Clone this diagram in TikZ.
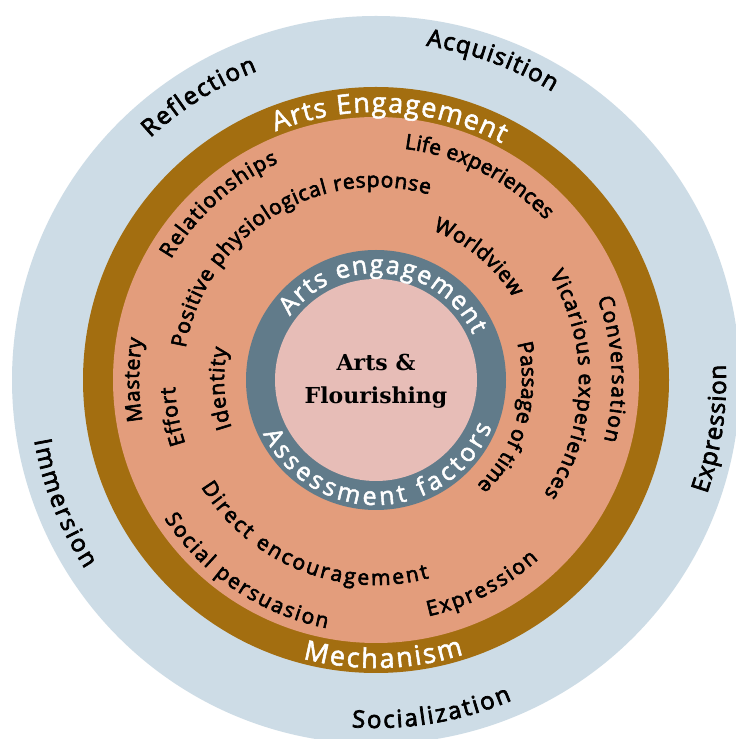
\documentclass[tikz,border=0pt]{standalone}
\usepackage{fontspec}
\usetikzlibrary{decorations.text,calc}
\newfontfamily\labfont[FakeBold=3]{Open Sans}
\newfontfamily\ringfont[FakeBold=2]{Open Sans}
\newfontfamily\centerfont{DejaVu Serif}
\definecolor{outerblue}{HTML}{CDDCE6}
\definecolor{ringbrown}{HTML}{A36E10}
\definecolor{salmon}{HTML}{E39D7C}
\definecolor{ringgray}{HTML}{617B8A}
\definecolor{corepink}{HTML}{E7BDB7}
% #1 radius, #2 start angle, #3 end angle, #4 font size, #5 colour, #6 text
\newcommand\arclabel[6]{%
  \path[decorate,decoration={text along path,text align=fit to path,
    text color=#5,text={|\labfont\fontsize{#4}{#4}\selectfont|#6}}]
    ($(C)+(#2:#1)$) arc[start angle=#2,end angle=#3,radius=#1];}
\newcommand\ringlabel[6]{%
  \path[decorate,decoration={text along path,text align=fit to path,
    text color=#5,text={|\ringfont\fontsize{#4}{#4}\selectfont|#6}}]
    ($(C)+(#2:#1)$) arc[start angle=#2,end angle=#3,radius=#1];}
\begin{document}
\begin{tikzpicture}[x=1pt,y=1pt]
\useasboundingbox (0,0) rectangle (736,739);
\fill[white] (0,0) rectangle (736,739);
\coordinate (C) at (376,359);
% rings
\fill[outerblue] (C) circle[radius=364];
\fill[ringbrown] (C) circle[radius=293];
\fill[salmon] (C) circle[radius=263];
\fill[ringgray] (C) circle[radius=130];
\fill[corepink] (C) circle[radius=101];
% outer ring labels
\arclabel{331}{133}{111}{24}{black}{Reflection}
\arclabel{338}{81.5}{58.5}{24}{black}{Acquisition}
\arclabel{350}{-19}{2.5}{24}{black}{Expression}
\arclabel{347}{190}{213}{24}{black}{Immersion}
\arclabel{348}{266}{293}{24}{black}{Socialization}
% brown ring labels
\ringlabel{268}{112}{62}{27}{white}{Arts Engagement}
\ringlabel{288}{255.3}{287.7}{27}{white}{Mechanism}
% salmon ring labels
\arclabel{233}{83}{43.3}{21}{black}{Life experiences}
\arclabel{238}{149.5}{114.2}{21}{black}{Relationships}
\arclabel{193}{170.5}{74}{21}{black}{Positive physiological response}
\arclabel{160}{69.2}{31}{21}{black}{Worldview}
\arclabel{203}{31.3}{-34.2}{21}{black}{Vicarious experiences}
\arclabel{236}{20.2}{-14.9}{21}{black}{Conversation}
\arclabel{146}{14.6}{-46.3}{21}{black}{Passage of time}
\arclabel{237}{190}{170}{21}{black}{Mastery}
\arclabel{201}{198.5}{182}{21}{black}{Effort}
\arclabel{152}{198.3}{168}{21}{black}{Identity}
\arclabel{205}{211.4}{285}{21}{black}{Direct encouragement}
\arclabel{253}{213.2}{258.8}{21}{black}{Social persuasion}
\arclabel{242}{282.5}{312.2}{21}{black}{Expression}
% gray ring labels
\ringlabel{107}{143.5}{25}{25}{white}{Arts engagement}
\ringlabel{125}{205.5}{338}{25}{white}{Assessment factors}
% core
\node[font=\centerfont\bfseries\fontsize{22}{33}\selectfont,align=center] (core) at ($(C)+(0,-1)$) {Arts \&\\Flourishing};
\end{tikzpicture}
\end{document}
